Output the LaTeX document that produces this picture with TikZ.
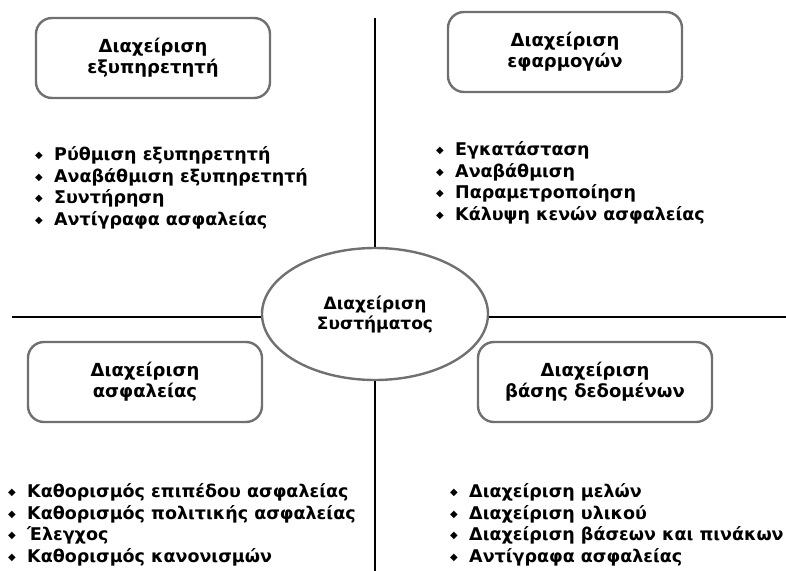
\documentclass[tikz,border=0pt]{standalone}
\usepackage{fontspec}
\setmainfont{DejaVu Sans}
\usetikzlibrary{shapes.geometric, positioning}

\definecolor{rim}{RGB}{112,112,112}
\newcommand{\dia}{\makebox[19pt][l]{\raisebox{2pt}{\fontsize{10}{8}\selectfont ◆}}}

\begin{document}
\begin{tikzpicture}[x=1pt,y=-1pt]
      \tikzstyle{every node}+=[inner sep=0pt]
      \tikzstyle{axis}=[black, line width=2.6pt]
      \tikzstyle{area}=[draw=rim, line width=2.4pt, rounded corners=16pt,
        minimum width=234pt, minimum height=80pt, align=center,
        font=\fontsize{18}{21}\selectfont\bfseries]
      \tikzstyle{hub}=[ellipse, draw=rim, line width=2.4pt,
        minimum width=226pt, minimum height=132pt, align=center,
        font=\fontsize{17}{20}\selectfont\bfseries]
      \tikzstyle{tasks}=[anchor=base west, align=left,
        font=\fontsize{17.5}{21.5}\selectfont\bfseries]
      \useasboundingbox (0,0) rectangle (786,570);
      % centre and the two axes
      \node [hub] (sys) at (375,314) {Διαχείριση\\Συστήματος};
      \coordinate (top) at (375,18);
      \coordinate (bottom) at (375,571);
      \coordinate (left) at (12,317);
      \coordinate (right) at (787,317);
      \draw [axis] (top) -- (sys.north);
      \draw [axis] (sys.south) -- (bottom);
      \draw [axis] (left) -- (left -| sys.west);
      \draw [axis] (right -| sys.east) -- (right);
      % the four areas
      \node [area] (server) at (153,58) {Διαχείριση\\εξυπηρετητή};
      \node [area] (apps) at (565,52) {Διαχείριση\\εφαρμογών};
      \node [area] (security) at (145,382) {Διαχείριση\\ασφαλείας};
      \node [area] (db) at (595,382) {Διαχείριση\\βάσης δεδομένων};
      % their tasks (anchored on the last line)
      \node [tasks] (servertasks) at (35,225) {\dia Ρύθμιση εξυπηρετητή\\
        \dia Αναβάθμιση εξυπηρετητή\\ \dia Συντήρηση\\ \dia Αντίγραφα ασφαλείας};
      \node [tasks] (appstasks) at (436,220) {\dia Εγκατάσταση\\ \dia Αναβάθμιση\\
        \dia Παραμετροποίηση\\ \dia Κάλυψη κενών ασφαλείας};
      \node [tasks] (securitytasks) at (8,562) {\dia Καθορισμός επιπέδου ασφαλείας\\
        \dia Καθορισμός πολιτικής ασφαλείας\\ \dia Έλεγχος\\ \dia Καθορισμός κανονισμών};
      \node [tasks] (dbtasks) at (450,562) {\dia Διαχείριση μελών\\ \dia Διαχείριση υλικού\\
        \dia Διαχείριση βάσεων και πινάκων\\ \dia Αντίγραφα ασφαλείας};
\end{tikzpicture}
\end{document}
